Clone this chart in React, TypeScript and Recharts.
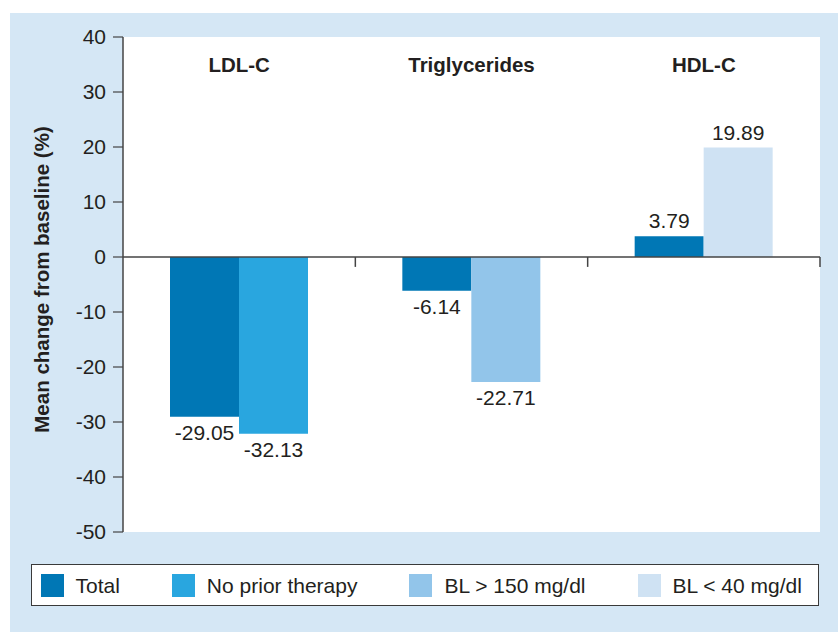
import React from 'react';
import {
  BarChart,
  Bar,
  XAxis,
  YAxis,
  Cell,
  LabelList,
  ReferenceLine,
  CartesianGrid,
} from 'recharts';

const categories = ['LDL-C', 'Triglycerides', 'HDL-C'];
const totalValues = [-29.05, -6.14, 3.79];
const noPriorTherapyValues: (number | null)[] = [-32.13, null, null];
const blAbove150Values: (number | null)[] = [null, -22.71, null];
const blBelow40Values: (number | null)[] = [null, null, 19.89];
const seriesNames = ['Total', 'No prior therapy', 'BL > 150 mg/dl', 'BL < 40 mg/dl'];
const seriesColors = ['#0077b5', '#29a6df', '#92c5ea', '#cfe2f3'];
const yTicks = [-50, -40, -30, -20, -10, 0, 10, 20, 30, 40];

const subgroupSeries = [noPriorTherapyValues, blAbove150Values, blBelow40Values];

const data = categories.map((category, i) => {
  const idx = subgroupSeries.findIndex((s) => s[i] !== null && s[i] !== undefined);
  return {
    category,
    total: totalValues[i],
    subgroup: subgroupSeries[idx][i] as number,
    subgroupColor: seriesColors[idx + 1],
  };
});

const FONT = '"Liberation Sans", Arial, Helvetica, sans-serif';
const TEXT = '#231f20';
const AXIS = '#444444';
const BG = '#d5e7f5';

const CategoryTick = (props: any) => {
  const { x, y, payload } = props;
  return (
    <text
      x={x}
      y={y}
      dy={35}
      textAnchor="middle"
      fontFamily={FONT}
      fontSize={20.5}
      fontWeight="bold"
      fill={TEXT}
    >
      {payload.value}
    </text>
  );
};

const YLabel = (props: any) => {
  const vb = props.viewBox || { x: 0, y: 0, width: 0, height: 0 };
  const cx = vb.x + 47;
  const cy = vb.y + vb.height / 2 - 5;
  return (
    <text
      x={cx}
      y={cy}
      transform={`rotate(-90, ${cx}, ${cy})`}
      textAnchor="middle"
      fontFamily={FONT}
      fontSize={20.5}
      fontWeight="bold"
      fill={TEXT}
    >
      Mean change from baseline (%)
    </text>
  );
};

export default function App() {
  // boundary ticks on the zero line: start of each later category, and end of the last one
  const boundaries: { cat: string; pos: 'start' | 'end' }[] = [
    ...categories.slice(1).map((c) => ({ cat: c, pos: 'start' as const })),
    { cat: categories[categories.length - 1], pos: 'end' as const },
  ];
  return (
    <div style={{ position: 'absolute', left: 0, top: 0, width: 838, height: 632, fontFamily: FONT }}>
      <div style={{ position: 'absolute', left: 10, top: 13, width: 828, height: 619, background: BG }} />
      <div style={{ position: 'absolute', left: 2, top: 0 }}>
        <BarChart
          width={836}
          height={632}
          data={data}
          margin={{ top: 7, right: 18, bottom: 100, left: 0 }}
          barGap={0}
          barSize={69}
        >
          <CartesianGrid fill="#ffffff" stroke="none" horizontal={false} vertical={false} />
          <XAxis
            dataKey="category"
            orientation="top"
            height={30}
            tickSize={0}
            tickMargin={0}
            axisLine={false}
            tickLine={false}
            tick={<CategoryTick />}
            interval={0}
          />
          <YAxis
            domain={[-50, 40]}
            ticks={yTicks}
            interval={0}
            width={121}
            tickSize={10}
            tickMargin={7}
            axisLine={{ stroke: AXIS, strokeWidth: 1.5 }}
            tickLine={{ stroke: AXIS, strokeWidth: 1.2 }}
            tick={{ fill: TEXT, fontSize: 21, fontFamily: FONT }}
            label={<YLabel />}
          />
          <ReferenceLine y={0} stroke={AXIS} strokeWidth={1.5} />
          {boundaries.map((b, i) => (
            <ReferenceLine
              key={i}
              position={b.pos}
              segment={[
                { x: b.cat, y: 0 },
                { x: b.cat, y: -1.8 },
              ]}
              stroke={AXIS}
              strokeWidth={1.5}
              ifOverflow="visible"
            />
          ))}
          <Bar dataKey="total" fill={seriesColors[0]} isAnimationActive={false}>
            <LabelList
              dataKey="total"
              position="top"
              offset={8}
              fill={TEXT}
              fontSize={21}
              fontFamily={FONT}
            />
          </Bar>
          <Bar dataKey="subgroup" isAnimationActive={false}>
            {data.map((d, i) => (
              <Cell key={i} fill={d.subgroupColor} />
            ))}
            <LabelList
              dataKey="subgroup"
              position="top"
              offset={8}
              fill={TEXT}
              fontSize={21}
              fontFamily={FONT}
            />
          </Bar>
        </BarChart>
      </div>
      <div
        style={{
          position: 'absolute',
          left: 31,
          top: 564,
          width: 788,
          height: 42,
          boxSizing: 'border-box',
          background: '#ffffff',
          border: '1.5px solid #3a3a3a',
          display: 'flex',
          alignItems: 'center',
          paddingLeft: 8.5,
        }}
      >
        {seriesNames.map((name, i) => (
          <div
            key={name}
            style={{
              display: 'flex',
              alignItems: 'center',
              flexShrink: 0,
              marginRight: i < seriesNames.length - 1 ? 52 : 0,
            }}
          >
            <div style={{ width: 23, height: 23, background: seriesColors[i], marginRight: 12, flexShrink: 0 }} />
            <span
              style={{
                fontSize: 21,
                color: TEXT,
                fontFamily: FONT,
                lineHeight: '23px',
                whiteSpace: 'nowrap',
              }}
            >
              {name}
            </span>
          </div>
        ))}
      </div>
    </div>
  );
}
